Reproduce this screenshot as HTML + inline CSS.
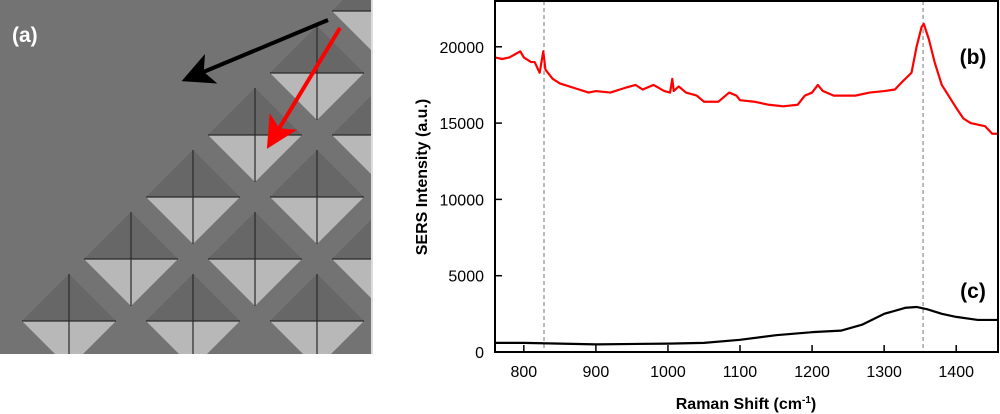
<!DOCTYPE html>
<html><head><meta charset="utf-8"><style>
body{margin:0;background:#fff;width:1000px;height:414px;overflow:hidden;font-family:"Liberation Sans",Arial,sans-serif}
svg{position:absolute;left:0;top:0}
</style></head><body>
<svg width="1000" height="414" viewBox="0 0 1000 414">
<defs><clipPath id="semclip"><rect x="0" y="0" width="372" height="354"/></clipPath>
<marker id="ahB" markerWidth="8" markerHeight="8" refX="6" refY="4" orient="auto"><path d="M0,0 L8,4 L0,8 L2,4z" fill="#000"/></marker>
<marker id="ahR" markerWidth="8" markerHeight="8" refX="6" refY="4" orient="auto"><path d="M0,0 L8,4 L0,8 L2,4z" fill="#f00"/></marker></defs>
<g clip-path="url(#semclip)">
<rect x="0" y="0" width="372" height="354" fill="#737373"/>
<g id="pyr"></g>
<text x="12" y="42" font-size="21" font-weight="bold" fill="#fff">(a)</text>
<line x1="328" y1="20" x2="189" y2="78" stroke="#000" stroke-width="4" marker-end="url(#ahB)"/>
<line x1="340" y1="28" x2="271" y2="142" stroke="#f00" stroke-width="4" marker-end="url(#ahR)"/>
</g>
<rect x="371" y="0" width="2" height="354" fill="#ddd"/>
<g id="chart"></g>
</svg>
<script>
const NS="http://www.w3.org/2000/svg";
function mk(t,a,p){const e=document.createElementNS(NS,t);for(const k in a)e.setAttribute(k,a[k]);p.appendChild(e);return e;}
const pyrI=[2,1,0,-1,-2,-3,1,0,-1,-2,0,-1];
const pyrJ=[0,0,0,0,0,0,1,1,1,1,2,2];
const pg=document.getElementById('pyr');
for(let k=0;k<pyrI.length;k++){
  const cx=255+pyrI[k]*62+pyrJ[k]*62, cy=135-pyrI[k]*62+pyrJ[k]*62, h=47;
  const g=mk('g',{},pg);
  
  
  mk('polygon',{points:`${cx-h},${cy} ${cx},${cy-h} ${cx+h},${cy}`,fill:'#676767'},g);
  mk('polygon',{points:`${cx-h},${cy} ${cx+h},${cy} ${cx},${cy+h}`,fill:'#b8b8b8'},g);
  mk('line',{x1:cx-h,y1:cy,x2:cx+h,y2:cy,stroke:'#2a2a2a','stroke-width':1.2},g);
  mk('line',{x1:cx,y1:cy-h,x2:cx,y2:cy+h,stroke:'#2a2a2a','stroke-width':1.2},g);
}
const redX=[760,770,780,795,800,810,815,822,827,830,840,850,870,890,900,920,940,955,965,980,995,1003,1006,1008,1015,1025,1040,1050,1070,1085,1095,1100,1120,1140,1160,1180,1190,1200,1208,1215,1230,1260,1280,1300,1315,1325,1338,1345,1352,1355,1362,1370,1380,1400,1410,1420,1440,1450,1458];
const redY=[19300,19200,19300,19700,19300,19000,19000,18300,19700,18500,17900,17600,17300,17000,17100,17000,17300,17500,17200,17500,17100,17000,17900,17100,17400,17000,16800,16400,16400,17000,16800,16500,16400,16200,16100,16200,16800,17000,17500,17100,16800,16800,17000,17100,17200,17700,18300,20000,21300,21500,20500,19000,17500,16000,15300,15000,14800,14300,14300];
const blkX=[760,800,900,1000,1050,1100,1150,1200,1240,1270,1300,1330,1345,1360,1380,1400,1430,1458];
const blkY=[600,600,500,550,600,800,1100,1300,1400,1800,2500,2900,2950,2800,2500,2300,2100,2100];
const xTicks=[800,900,1000,1100,1200,1300,1400];
const yTicks=[0,5000,10000,15000,20000];
const dashX=[828,1354];
const L=495,R=998,T=1,B=352,XMIN=760,XMAX=1458,YMAX=23000;
const sx=v=>L+(v-XMIN)/(XMAX-XMIN)*(R-L);
const sy=v=>B-v/YMAX*(B-T);
const c=document.getElementById('chart');
dashX.forEach(d=>{const e=mk('line',{x1:sx(d),x2:sx(d),y1:T,y2:B,stroke:'#777','stroke-width':1,'stroke-dasharray':'4,3'},c);

});
function line(xs,ys,col,name){const p=mk('polyline',{points:xs.map((x,i)=>sx(x)+','+sy(ys[i])).join(' '),fill:'none',stroke:col,'stroke-width':2.2,'stroke-linejoin':'round'},c);

}
line(redX,redY,'#f00','series-b');
line(blkX,blkY,'#000','series-c');
const fr=mk('rect',{x:L,y:T,width:R-L,height:B-T,fill:'none',stroke:'#000','stroke-width':2},c);


xTicks.forEach(t=>{mk('line',{x1:sx(t),x2:sx(t),y1:B,y2:B-7,stroke:'#000','stroke-width':1.5},c);
const e=mk('text',{x:sx(t),y:B+25,'text-anchor':'middle','font-size':16,fill:'#000'},c);e.textContent=t;

});
yTicks.forEach(t=>{mk('line',{x1:L,x2:L+7,y1:sy(t),y2:sy(t),stroke:'#000','stroke-width':1.5},c);
const e=mk('text',{x:L-11,y:sy(t)+6,'text-anchor':'end','font-size':16,fill:'#000'},c);e.textContent=t;

});
let e=mk('text',{x:746,y:409,'text-anchor':'middle','font-size':16,'font-weight':'bold'},c);
e.innerHTML='Raman Shift (cm<tspan dy="-6" font-size="10">-1</tspan><tspan dy="6">)</tspan>';


e=mk('text',{x:0,y:0,'text-anchor':'middle','font-size':16,'font-weight':'bold',transform:'translate(427,177) rotate(-90)'},c);
e.textContent='SERS Intensity (a.u.)';


e=mk('text',{x:973,y:64,'text-anchor':'middle','font-size':21,'font-weight':'bold'},c);e.textContent='(b)';


e=mk('text',{x:973,y:298,'text-anchor':'middle','font-size':21,'font-weight':'bold'},c);e.textContent='(c)';


</script>
</body></html>
